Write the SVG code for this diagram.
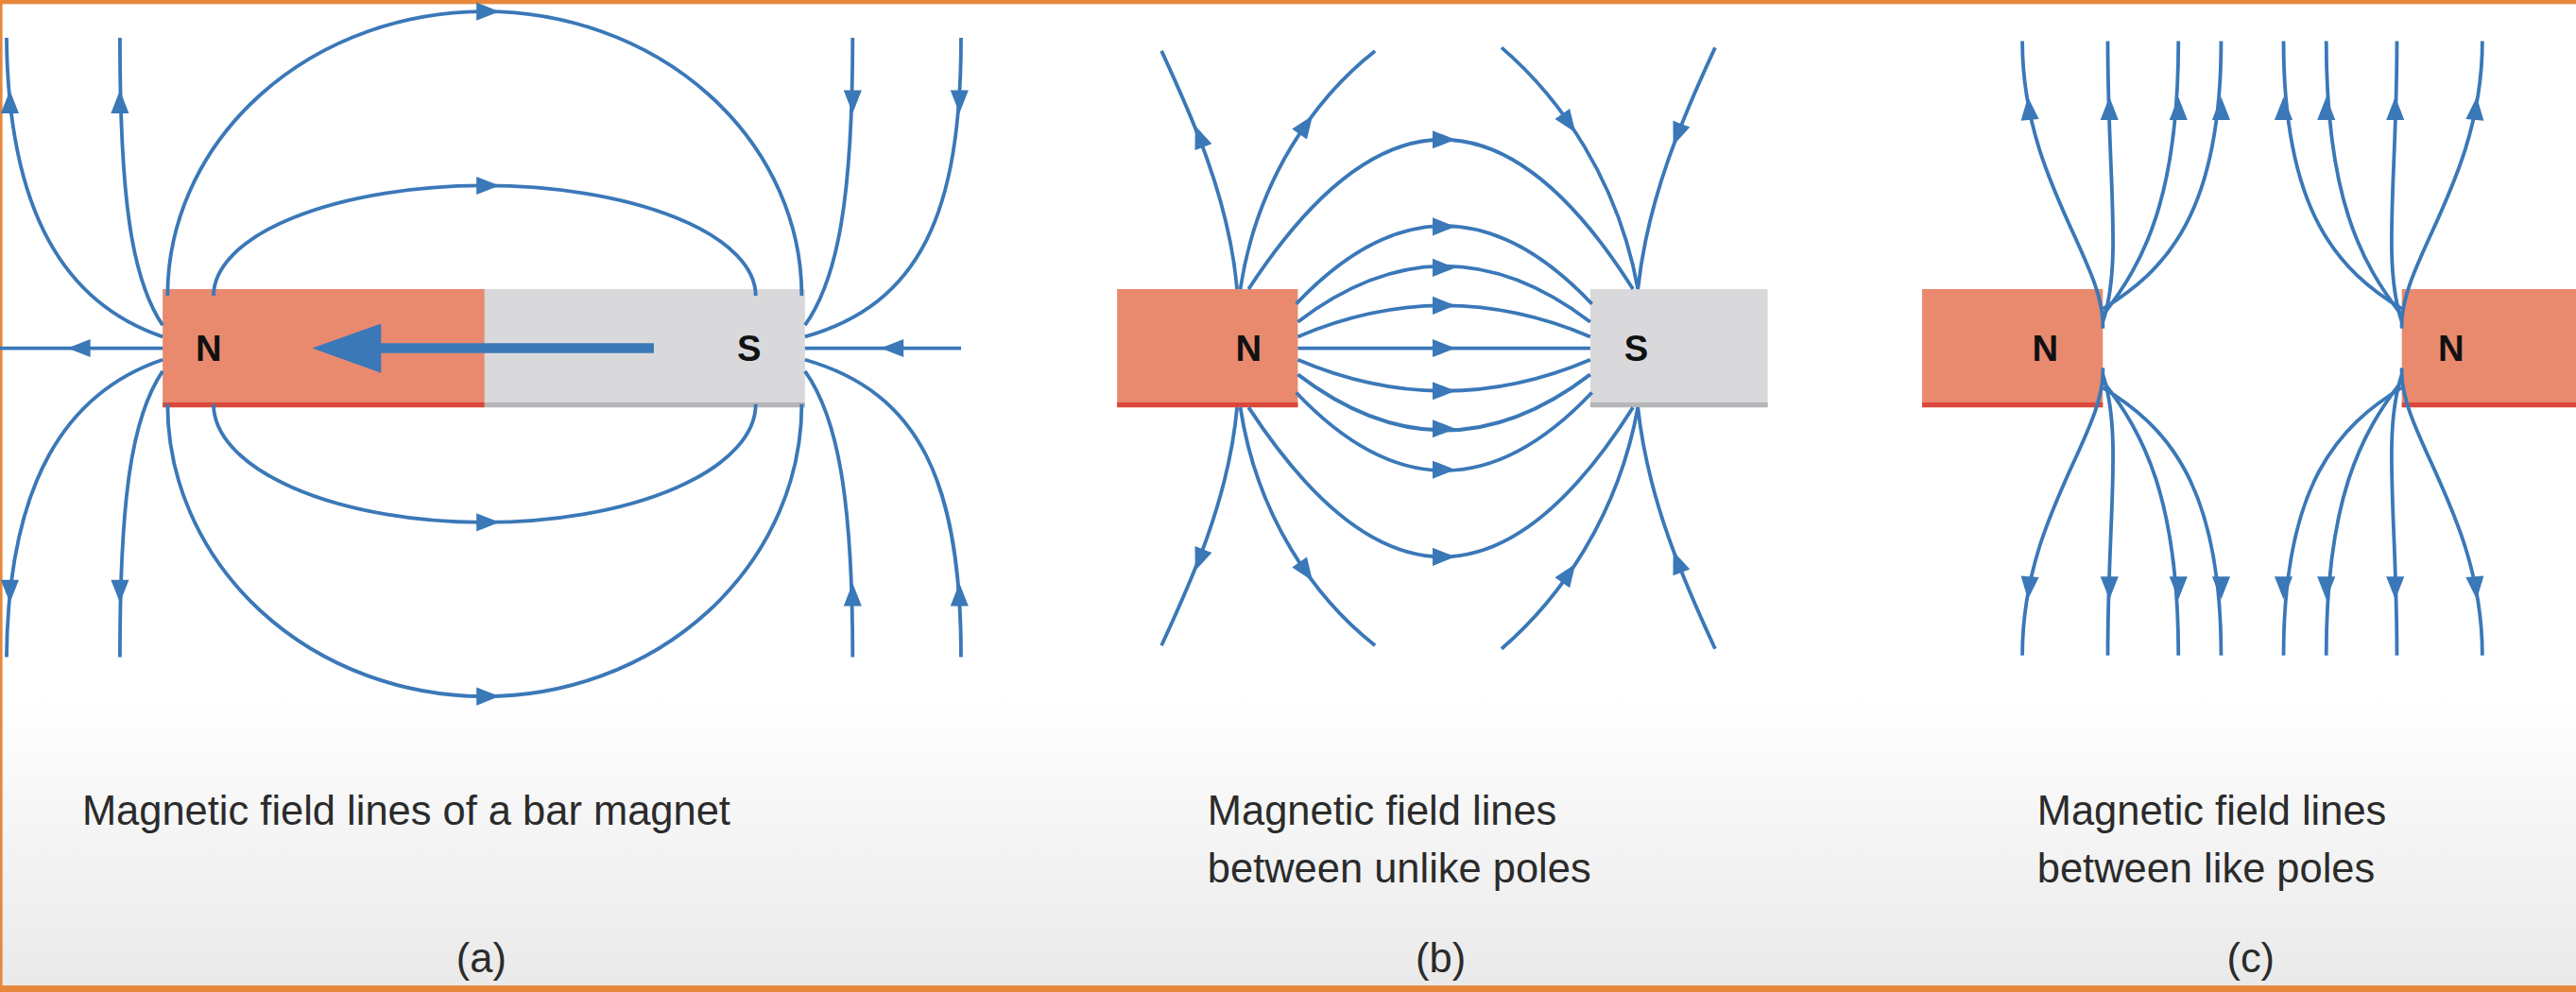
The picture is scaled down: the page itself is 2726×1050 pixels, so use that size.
<svg xmlns="http://www.w3.org/2000/svg" xmlns:xlink="http://www.w3.org/1999/xlink" width="2726" height="1050" viewBox="0 0 2726 1050">
<defs>
<linearGradient id="bg" x1="0" y1="0" x2="0" y2="1">
<stop offset="0" stop-color="#ffffff"/><stop offset="0.7" stop-color="#ffffff"/><stop offset="1" stop-color="#e9e9e9"/>
</linearGradient>
<path id="ah" d="M7,0 L-7,-5.5 L-7,5.5 Z" fill="#3a78b8"/>
<style>
.fl{fill:none;stroke:#3a78b8;stroke-width:2.2}
.n{fill:#e98a6f}
.s{fill:#d9d9db}
.pl{font-family:"Liberation Sans",Arial,sans-serif;font-weight:bold;font-size:22px;fill:#111;text-anchor:middle}
.cap{font-family:"Liberation Sans",Arial,sans-serif;font-size:25px;fill:#2b2b2b}
.lab{font-family:"Liberation Sans",Arial,sans-serif;font-size:25px;fill:#2b2b2b;text-anchor:middle}
</style>
<g id="fanc">
<path class="fl" d="M1280,200 C1282,160 1231,110 1231,25"/>
<path class="fl" d="M1280,196 C1292,160 1283,110 1283,25"/>
<path class="fl" d="M1280,192 C1305,160 1326,120 1326,25"/>
<path class="fl" d="M1280,188 C1318,165 1352,130 1352,25"/>
<use xlink:href="#ah" transform="translate(1235,66) rotate(-95)"/>
<use xlink:href="#ah" transform="translate(1284,66) rotate(-90)"/>
<use xlink:href="#ah" transform="translate(1326,66) rotate(-90)"/>
<use xlink:href="#ah" transform="translate(1352,66) rotate(-90)"/>
</g>
</defs>
<rect width="2726" height="1050" fill="url(#bg)"/>
<g transform="scale(1.7385)">
<rect x="0" y="0" width="1568" height="2.5" fill="#e8873a"/>
<rect x="0" y="0" width="1.5" height="604" fill="#e8873a"/>
<rect x="0" y="600" width="1568" height="4" fill="#e8873a"/>

<g id="magnet-a">
<rect class="n" x="99" y="176" width="196" height="72"/>
<rect x="99" y="245" width="196" height="3" fill="#d9483a"/>
<rect class="s" x="295" y="176" width="195" height="72"/>
<rect x="295" y="245" width="195" height="3" fill="#b5b5b8"/>
<line x1="398" y1="212" x2="210" y2="212" stroke="#3a78b8" stroke-width="6"/>
<path d="M190,212 L232,197 L232,227 Z" fill="#3a78b8"/>
<text class="pl" x="127" y="220">N</text>
<text class="pl" x="456" y="220">S</text>
</g>
<g id="field-a">
<path class="fl" d="M102,180 A193,173 0 0 1 488,180"/>
<path class="fl" d="M102,246 A193,178 0 0 0 488,246"/>
<path class="fl" d="M130,180 A165,67 0 0 1 460,180"/>
<path class="fl" d="M130,246 A165,72 0 0 0 460,246"/>
<path class="fl" d="M0,212 L99,212"/>
<path class="fl" d="M490,212 L585,212"/>
<path class="fl" d="M99,205 C40,185 5,130 4,23"/>
<path class="fl" d="M99,198 C80,170 73,120 73,23"/>
<path class="fl" d="M99,219 C40,239 5,294 4,400"/>
<path class="fl" d="M99,226 C80,254 73,304 73,400"/>
<path class="fl" d="M490,205 C560,185 585,130 585,23"/>
<path class="fl" d="M490,198 C510,170 519,120 519,23"/>
<path class="fl" d="M490,219 C560,239 585,294 585,400"/>
<path class="fl" d="M490,226 C510,254 519,304 519,400"/>
<use xlink:href="#ah" transform="translate(297,7)"/>
<use xlink:href="#ah" transform="translate(297,113)"/>
<use xlink:href="#ah" transform="translate(297,318)"/>
<use xlink:href="#ah" transform="translate(297,424)"/>
<use xlink:href="#ah" transform="translate(48,212) rotate(180)"/>
<use xlink:href="#ah" transform="translate(543,212) rotate(180)"/>
<use xlink:href="#ah" transform="translate(6,62) rotate(-90)"/>
<use xlink:href="#ah" transform="translate(73,62) rotate(-90)"/>
<use xlink:href="#ah" transform="translate(6,360) rotate(90)"/>
<use xlink:href="#ah" transform="translate(73,360) rotate(90)"/>
<use xlink:href="#ah" transform="translate(584,62) rotate(90)"/>
<use xlink:href="#ah" transform="translate(519,62) rotate(90)"/>
<use xlink:href="#ah" transform="translate(584,362) rotate(-90)"/>
<use xlink:href="#ah" transform="translate(519,362) rotate(-90)"/>
</g>

<g id="magnets-b">
<rect class="n" x="680" y="176" width="110" height="72"/>
<rect x="680" y="245" width="110" height="3" fill="#d9483a"/>
<rect class="s" x="968" y="176" width="108" height="72"/>
<rect x="968" y="245" width="108" height="3" fill="#b5b5b8"/>
<text class="pl" x="760" y="220">N</text>
<text class="pl" x="996" y="220">S</text>
</g>
<g id="field-b">
<path class="fl" d="M790,212 L968,212"/>
<path class="fl" d="M790,205 Q879,167 968,205"/>
<path class="fl" d="M790,219 Q879,257 968,219"/>
<path class="fl" d="M790,196 Q879,128 968,196"/>
<path class="fl" d="M790,228 Q879,296 968,228"/>
<path class="fl" d="M789,185 Q879,90 969,185"/>
<path class="fl" d="M789,239 Q879,334 969,239"/>
<path class="fl" d="M760,176 Q879,-6 994,176"/>
<path class="fl" d="M760,248 Q879,430 994,248"/>
<path class="fl" d="M753,176 C748,120 725,70 707,31"/>
<path class="fl" d="M755,176 C765,110 800,60 837,31"/>
<path class="fl" d="M997,176 C985,110 950,60 914,29"/>
<path class="fl" d="M997,176 C1003,120 1025,70 1044,29"/>
<path class="fl" d="M753,248 C748,304 725,354 707,393"/>
<path class="fl" d="M755,248 C765,314 800,364 837,393"/>
<path class="fl" d="M997,248 C985,314 950,364 914,395"/>
<path class="fl" d="M997,248 C1003,304 1025,354 1044,395"/>
<use xlink:href="#ah" transform="translate(879,85)"/>
<use xlink:href="#ah" transform="translate(879,138)"/>
<use xlink:href="#ah" transform="translate(879,163)"/>
<use xlink:href="#ah" transform="translate(879,186)"/>
<use xlink:href="#ah" transform="translate(879,212)"/>
<use xlink:href="#ah" transform="translate(879,238)"/>
<use xlink:href="#ah" transform="translate(879,261)"/>
<use xlink:href="#ah" transform="translate(879,286)"/>
<use xlink:href="#ah" transform="translate(879,339)"/>
<use xlink:href="#ah" transform="translate(730,83) rotate(-111)"/>
<use xlink:href="#ah" transform="translate(795,76) rotate(-55)"/>
<use xlink:href="#ah" transform="translate(955,75) rotate(55)"/>
<use xlink:href="#ah" transform="translate(1021,82) rotate(111)"/>
<use xlink:href="#ah" transform="translate(730,341) rotate(111)"/>
<use xlink:href="#ah" transform="translate(795,348) rotate(55)"/>
<use xlink:href="#ah" transform="translate(955,349) rotate(-55)"/>
<use xlink:href="#ah" transform="translate(1021,342) rotate(-111)"/>
</g>

<g id="magnets-c">
<rect class="n" x="1170" y="176" width="110" height="72"/>
<rect x="1170" y="245" width="110" height="3" fill="#d9483a"/>
<rect class="n" x="1462" y="176" width="106" height="72"/>
<rect x="1462" y="245" width="106" height="3" fill="#d9483a"/>
<text class="pl" x="1245" y="220">N</text>
<text class="pl" x="1492" y="220">N</text>
</g>
<g id="field-c">
<use xlink:href="#fanc"/>
<use xlink:href="#fanc" transform="translate(0,424) scale(1,-1)"/>
<use xlink:href="#fanc" transform="translate(2742,0) scale(-1,1)"/>
<use xlink:href="#fanc" transform="translate(2742,424) scale(-1,-1)"/>
</g>

<g id="captions">
<text class="cap" x="50" y="502">Magnetic field lines of a bar magnet</text>
<text class="lab" x="293" y="592">(a)</text>
<text class="cap" x="735" y="502">Magnetic field lines</text>
<text class="cap" x="735" y="537">between unlike poles</text>
<text class="lab" x="877" y="592">(b)</text>
<text class="cap" x="1240" y="502">Magnetic field lines</text>
<text class="cap" x="1240" y="537">between like poles</text>
<text class="lab" x="1370" y="592">(c)</text>
</g>
</g>
</svg>
